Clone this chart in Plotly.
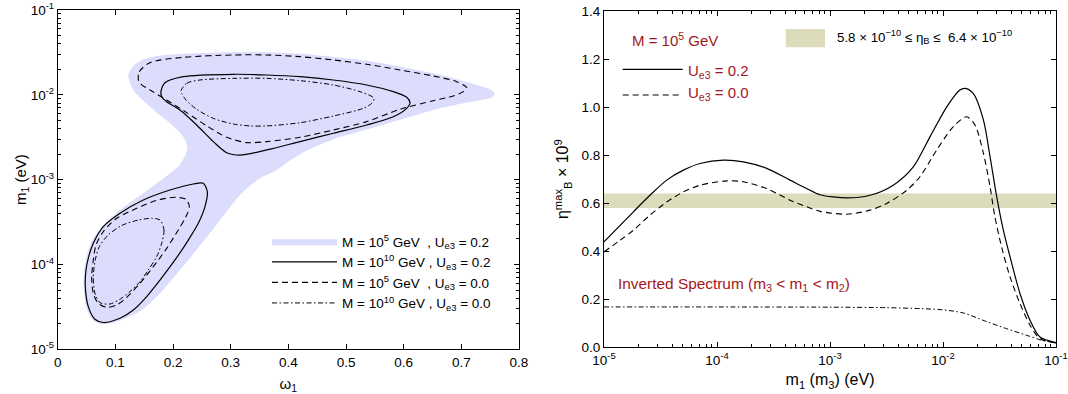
import plotly.graph_objects as go

# ---------------- Left panel data (omega_1, m_1 [eV]) ----------------
omega_shade = [0.1223, 0.1300, 0.1450, 0.1773, 0.220, 0.300, 0.360, 0.420, 0.480, 0.536,
               0.594, 0.651, 0.700, 0.735, 0.752, 0.758, 0.752, 0.735, 0.709, 0.651,
               0.594, 0.536, 0.478, 0.432, 0.397, 0.380, 0.351, 0.319, 0.2727, 0.2264,
               0.1773, 0.1455, 0.1195, 0.0950, 0.0780, 0.0620, 0.0500, 0.0450, 0.0460, 0.0520,
               0.0590, 0.0730, 0.1079, 0.1483, 0.1946, 0.2120, 0.2220, 0.2246, 0.2177, 0.1946,
               0.1600, 0.1310]
m1_shade = [0.0171, 0.0215, 0.0255, 0.0290, 0.0305, 0.0318, 0.0318, 0.0305, 0.0280, 0.0252,
            0.0215, 0.0180, 0.0148, 0.0126, 0.0114, 0.0104, 0.0093, 0.0087, 0.0081, 0.0066,
            0.0051, 0.0039, 0.0030, 0.0022, 0.00158, 0.0013, 0.00104, 6.9e-4, 2.79e-4, 1.13e-4,
            4.57e-5, 2.9e-5, 2.35e-5, 2.05e-5, 1.97e-5, 2.15e-5, 3.0e-5, 5.5e-5, 9.0e-5, 1.4e-4,
            1.9e-4, 2.6e-4, 4.39e-4, 6.9e-4, 1.19e-3, 1.5e-3, 2.0e-3, 2.4e-3, 3.21e-3, 4.61e-3,
            7.24e-3, 0.0114]

# M = 1e10 GeV, Ue3 = 0.2 (solid)
omega_solid_up = [0.1790, 0.1860, 0.2177, 0.3044, 0.3624, 0.4201, 0.4779, 0.5358, 0.5820, 0.6052,
                  0.6110, 0.6052, 0.5820, 0.5358, 0.4779, 0.4201, 0.3624, 0.3160, 0.2930, 0.2697,
                  0.2409, 0.2120, 0.1889, 0.1802]
m1_solid_up = [0.01089, 0.01390, 0.01637, 0.01746, 0.01714, 0.01637, 0.01496, 0.01306, 0.01089, 0.00935,
               0.00807, 0.00693, 0.00552, 0.00441, 0.00352, 0.00281, 0.00224, 0.00195, 0.00208, 0.00281,
               0.00441, 0.00662, 0.00830, 0.00951]
omega_solid_low = [0.2524, 0.2594, 0.2553, 0.2437, 0.2264, 0.2033, 0.1773, 0.1542, 0.1310, 0.1079,
                   0.0789, 0.0645, 0.0529, 0.0477, 0.0489, 0.0536, 0.0616, 0.0789, 0.1079, 0.1483,
                   0.1946, 0.2350]
m1_solid_low = [9.06e-4, 7.22e-4, 4.81e-4, 3.06e-4, 1.94e-4, 1.13e-4, 6.56e-5, 4.18e-5, 2.90e-5, 2.32e-5,
                2.07e-5, 2.26e-5, 3.18e-5, 5.48e-5, 8.61e-5, 1.24e-4, 1.78e-4, 2.79e-4, 4.01e-4, 5.75e-4,
                7.55e-4, 8.89e-4]

# M = 1e5 GeV, Ue3 = 0.0 (dashed)
omega_dash_up = [0.1397, 0.1414, 0.1599, 0.2177, 0.3044, 0.3624, 0.4201, 0.4779, 0.5358, 0.5936,
                 0.6513, 0.6919, 0.7093, 0.7034, 0.6860, 0.6513, 0.5936, 0.5358, 0.4779, 0.4201,
                 0.3624, 0.3277, 0.2930, 0.2583, 0.2236, 0.1889, 0.1599, 0.1438]
m1_dash_up = [0.01524, 0.01875, 0.02394, 0.02767, 0.02950, 0.02950, 0.02818, 0.02575, 0.02291, 0.01963,
              0.01667, 0.01429, 0.01214, 0.01089, 0.00968, 0.00853, 0.00675, 0.00483, 0.00385, 0.00316,
              0.00281, 0.00273, 0.00316, 0.00430, 0.00617, 0.00869, 0.01140, 0.01343]
omega_dash_low = [0.0616, 0.0588, 0.0616, 0.0703, 0.0848, 0.1022, 0.1195, 0.1426, 0.1657, 0.1889,
                  0.2090, 0.2224, 0.2281, 0.2224, 0.2033, 0.1716, 0.1369, 0.1022, 0.0789, 0.0663]
m1_dash_low = [1.13e-4, 7.18e-5, 4.57e-5, 3.48e-5, 3.13e-5, 3.33e-5, 4.10e-5, 6.00e-5, 9.42e-5, 1.55e-4,
               2.55e-4, 3.67e-4, 4.81e-4, 5.86e-4, 6.19e-4, 5.69e-4, 4.59e-4, 3.50e-4, 2.44e-4, 1.70e-4]

# M = 1e10 GeV, Ue3 = 0.0 (dash-dot)
omega_dd_up = [0.2137, 0.2236, 0.2467, 0.3044, 0.3624, 0.4201, 0.4779, 0.5242, 0.5485, 0.5445,
               0.5299, 0.4779, 0.4201, 0.3624, 0.3334, 0.3044, 0.2697, 0.2409, 0.2224, 0.2149]
m1_dd_up = [0.01119, 0.01368, 0.01496, 0.01563, 0.01563, 0.01469, 0.01306, 0.01089, 0.00910, 0.00794,
            0.00693, 0.00562, 0.00469, 0.00430, 0.00430, 0.00453, 0.00528, 0.00675, 0.00869, 0.01042]
omega_dd_low = [0.1773, 0.1842, 0.1802, 0.1716, 0.1570, 0.1426, 0.1252, 0.1079, 0.0905, 0.0732,
                0.0645, 0.0616, 0.0650, 0.0720, 0.0876, 0.1108, 0.1396, 0.1629]
m1_dd_low = [3.34e-4, 2.55e-4, 1.78e-4, 1.24e-4, 8.61e-5, 6.28e-5, 4.79e-5, 3.89e-5, 3.42e-5, 3.55e-5,
             4.57e-5, 7.18e-5, 1.13e-4, 1.62e-4, 2.23e-4, 2.88e-4, 3.34e-4, 3.50e-4]

# ---------------- Right panel data (m_1 (m_3) [eV], eta_B^max x 1e9) ----------------
m_solid = [1.0e-5, 1.82e-5, 2.55e-5, 3.59e-5, 5.04e-5, 7.08e-5, 1.14e-4, 1.71e-4, 2.75e-4, 4.43e-4,
           6.22e-4, 8.17e-4, 1.41e-3, 2.26e-3, 3.63e-3, 5.46e-3, 7.67e-3, 1.08e-2, 1.41e-2, 1.57e-2,
           1.85e-2, 2.28e-2, 2.61e-2, 2.99e-2, 3.42e-2, 4.06e-2, 4.80e-2, 5.89e-2, 7.21e-2, 1.0e-1]
eta_solid = [0.439, 0.564, 0.633, 0.696, 0.7375, 0.765, 0.779, 0.772, 0.745, 0.696,
             0.661, 0.635, 0.622, 0.633, 0.675, 0.751, 0.876, 1.001, 1.071, 1.078,
             1.057, 0.946, 0.793, 0.626, 0.4875, 0.349, 0.224, 0.1125, 0.043, 0.020]
m_dash = [1.0e-5, 1.39e-5, 1.82e-5, 2.55e-5, 3.59e-5, 5.04e-5, 7.08e-5, 1.22e-4, 1.71e-4, 2.75e-4,
          4.43e-4, 6.22e-4, 8.17e-4, 1.41e-3, 2.26e-3, 3.18e-3, 4.78e-3, 6.25e-3, 8.79e-3, 1.23e-2,
          1.62e-2, 1.92e-2, 2.28e-2, 2.61e-2, 2.88e-2, 3.30e-2, 3.92e-2, 4.80e-2, 5.89e-2, 7.21e-2, 1.0e-1]
eta_dash = [0.397, 0.446, 0.4875, 0.550, 0.605, 0.647, 0.675, 0.693, 0.689, 0.661,
            0.6125, 0.585, 0.566, 0.554, 0.571, 0.599, 0.654, 0.710, 0.821, 0.918,
            0.960, 0.925, 0.807, 0.668, 0.543, 0.418, 0.293, 0.182, 0.092, 0.036, 0.018]
m_inv = [1.0e-5, 1.0e-4, 1.0e-3, 3.16e-3, 6.31e-3, 1.0e-2, 1.51e-2, 2.40e-2, 3.63e-2, 5.50e-2, 7.41e-2, 1.0e-1]
eta_inv = [0.168, 0.168, 0.167, 0.165, 0.161, 0.156, 0.143, 0.108, 0.078, 0.050, 0.030, 0.018]
band_low, band_high = 0.58, 0.64
m_range = [1.0e-5, 1.0e-1]

log_ticks = [1e-5, 1e-4, 1e-3, 1e-2, 1e-1]
log_ticktext = ["10<sup>-5</sup>", "10<sup>-4</sup>", "10<sup>-3</sup>", "10<sup>-2</sup>", "10<sup>-1</sup>"]
minor_vals = [k * 10.0 ** e for e in range(-5, -1) for k in range(2, 10)]

FONT = "Liberation Sans, Arial, Helvetica, sans-serif"
DARKRED = "#a3161a"
SHADE = "#dcdcfd"
BAND = "#dcdcbd"
DASH = "6px,4px"
DASHDOT = "5px,2.5px,1.5px,2.5px"


def closed(xs, ys):
    return xs + [xs[0]], ys + [ys[0]]


def two_lobes(xa, ya, xb, yb):
    xa2, ya2 = closed(xa, ya)
    xb2, yb2 = closed(xb, yb)
    return xa2 + [None] + xb2, ya2 + [None] + yb2


fig = go.Figure()
nb = "\u00a0"

sx, sy = closed(omega_shade, m1_shade)
fig.add_trace(go.Scatter(x=sx, y=sy, mode="lines", fill="toself", fillcolor=SHADE,
                         line=dict(width=0, color=SHADE, shape="spline", smoothing=0.8),
                         name=f"M = 10<sup>5</sup> GeV{nb}{nb}, U<sub>e3</sub> = 0.2",
                         xaxis="x", yaxis="y"))
x, y = two_lobes(omega_solid_up, m1_solid_up, omega_solid_low, m1_solid_low)
fig.add_trace(go.Scatter(x=x, y=y, mode="lines", line=dict(color="black", width=1.2, shape="spline", smoothing=0.8),
                         name=f"M = 10<sup>10</sup> GeV{nb}, U<sub>e3</sub> = 0.2", connectgaps=False,
                         xaxis="x", yaxis="y"))
x, y = two_lobes(omega_dash_up, m1_dash_up, omega_dash_low, m1_dash_low)
fig.add_trace(go.Scatter(x=x, y=y, mode="lines", line=dict(color="black", width=1.1, dash=DASH, shape="spline", smoothing=0.8),
                         name=f"M = 10<sup>5</sup> GeV{nb}{nb}, U<sub>e3</sub> = 0.0", connectgaps=False,
                         xaxis="x", yaxis="y"))
x, y = two_lobes(omega_dd_up, m1_dd_up, omega_dd_low, m1_dd_low)
fig.add_trace(go.Scatter(x=x, y=y, mode="lines", line=dict(color="black", width=1, dash=DASHDOT, shape="spline", smoothing=0.8),
                         name=f"M = 10<sup>10</sup> GeV{nb}, U<sub>e3</sub> = 0.0", connectgaps=False,
                         xaxis="x", yaxis="y"))

# Right panel
fig.add_trace(go.Scatter(x=[m_range[0], m_range[1], m_range[1], m_range[0]],
                         y=[band_low, band_low, band_high, band_high],
                         mode="lines", fill="toself", fillcolor=BAND, line=dict(width=0, color=BAND),
                         showlegend=False, xaxis="x2", yaxis="y2", name="5.8e-10 ≤ ηB ≤ 6.4e-10"))
fig.add_trace(go.Scatter(x=m_solid, y=eta_solid, mode="lines",
                         line=dict(color="black", width=1.2, shape="spline", smoothing=0.8),
                         showlegend=False, xaxis="x2", yaxis="y2", name="Ue3 = 0.2"))
fig.add_trace(go.Scatter(x=m_dash, y=eta_dash, mode="lines",
                         line=dict(color="black", width=1.1, dash=DASH, shape="spline", smoothing=0.8),
                         showlegend=False, xaxis="x2", yaxis="y2", name="Ue3 = 0.0"))
fig.add_trace(go.Scatter(x=m_inv, y=eta_inv, mode="lines",
                         line=dict(color="black", width=1, dash=DASHDOT, shape="spline", smoothing=0.8),
                         showlegend=False, xaxis="x2", yaxis="y2", name="Inverted spectrum"))

W, H = 1068, 394


def px(v):
    return v / W


def py(v):
    return 1 - v / H


axis_common = dict(showline=True, linecolor="black", linewidth=1, mirror="allticks",
                   ticks="inside", ticklen=5, tickwidth=1, tickcolor="black",
                   showgrid=False, zeroline=False, automargin=False,
                   tickfont=dict(family=FONT, size=13.5, color="black"))

fig.update_layout(
    width=W, height=H, margin=dict(l=0, r=0, t=0, b=0),
    paper_bgcolor="white", plot_bgcolor="white",
    font=dict(family=FONT, color="black"),
    xaxis=dict(domain=[px(57.8), px(519)], range=[0, 0.8], dtick=0.1, tick0=0, anchor="y",
               title=dict(text="ω<sub>1</sub>", font=dict(size=15), standoff=9), **axis_common),
    yaxis=dict(domain=[py(349.3), py(10)], type="log", range=[-5, -1], anchor="x",
               tickvals=log_ticks, ticktext=log_ticktext,
               minor=dict(tickvals=minor_vals, ticks="inside", ticklen=3, tickcolor="black", showgrid=False),
               title=dict(text="m<sub>1</sub> (eV)", font=dict(size=15), standoff=0), **axis_common),
    xaxis2=dict(domain=[px(604), px(1056)], type="log", range=[-5, -1], anchor="y2",
                tickvals=log_ticks, ticktext=log_ticktext,
                minor=dict(tickvals=minor_vals, ticks="inside", ticklen=3, tickcolor="black", showgrid=False),
                title=dict(text="m<sub>1</sub> (m<sub>3</sub>) (eV)", font=dict(size=16), standoff=7), **axis_common),
    yaxis2=dict(domain=[py(347.3), py(11)], range=[0, 1.4], dtick=0.2, tickformat=".1f", anchor="x2",
                title=dict(text="η<sup>max</sup><sub>B</sub> × 10<sup>9</sup>", font=dict(size=16), standoff=8),
                **axis_common),
    legend=dict(x=px(267), y=py(226), xanchor="left", yanchor="top", bgcolor="rgba(0,0,0,0)",
                font=dict(family=FONT, size=13.5, color="black"), itemwidth=65, tracegroupgap=0,
                traceorder="normal"),
    showlegend=True,
)

# Right panel key (samples + labels)
fig.add_shape(type="line", xref="paper", yref="paper", x0=px(622.7), x1=px(682.7), y0=py(69.3), y1=py(69.3),
              line=dict(color="black", width=1.2))
fig.add_shape(type="line", xref="paper", yref="paper", x0=px(622.7), x1=px(682.7), y0=py(95), y1=py(95),
              line=dict(color="black", width=1.1, dash=DASH))
fig.add_shape(type="rect", xref="paper", yref="paper", x0=px(785.7), x1=px(825), y0=py(47.3), y1=py(29),
              line=dict(width=0), fillcolor=BAND)

ann = [
    dict(text="M = 10<sup>5</sup> GeV", x=px(630), y=py(40), color=DARKRED, size=15),
    dict(text="U<sub>e3</sub> = 0.2", x=px(686), y=py(71), color=DARKRED, size=15),
    dict(text="U<sub>e3</sub> = 0.0", x=px(686), y=py(94), color=DARKRED, size=15),
    dict(text="5.8 × 10<sup>−10</sup> ≤ η<sub>B</sub> ≤  6.4 × 10<sup>−10</sup>", x=px(835), y=py(37),
         color="black", size=13.3),
    dict(text="Inverted Spectrum (m<sub>3</sub> < m<sub>1</sub> < m<sub>2</sub>)", x=px(616), y=py(284),
         color=DARKRED, size=15.4),
]
for a in ann:
    fig.add_annotation(text=a["text"], x=a["x"], y=a["y"], xref="paper", yref="paper",
                       xanchor="left", yanchor="middle", showarrow=False,
                       font=dict(family=FONT, size=a["size"], color=a["color"]))

fig.write_html("out.html", config={"displayModeBar": False},
               post_script="document.body.style.margin='0';document.body.style.overflow='hidden';")
